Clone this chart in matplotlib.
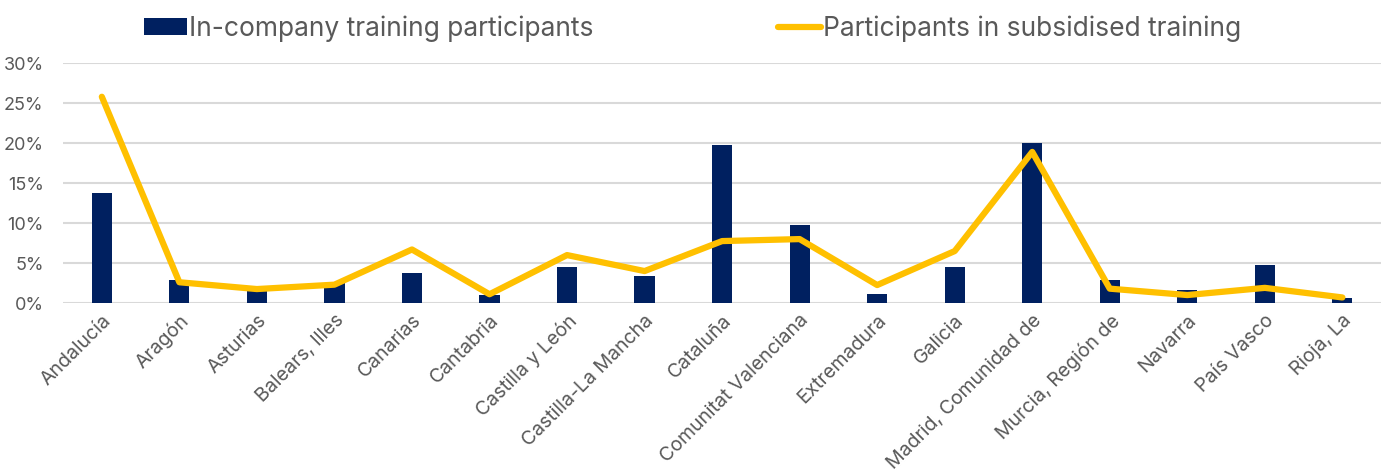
import matplotlib.pyplot as plt
import numpy as np
from matplotlib.ticker import PercentFormatter

regions = ["Andalucía", "Aragón", "Asturias", "Balears, Illes", "Canarias", "Cantabria",
           "Castilla y León", "Castilla-La Mancha", "Cataluña", "Comunitat Valenciana",
           "Extremadura", "Galicia", "Madrid, Comunidad de", "Murcia, Región de",
           "Navarra", "País Vasco", "Rioja, La"]
in_company = [13.8, 2.9, 2.0, 2.5, 3.7, 1.0, 4.5, 3.4, 19.8, 9.7, 1.1, 4.5, 20.0, 2.9, 1.6, 4.8, 0.6]
subsidised = [25.8, 2.6, 1.75, 2.3, 6.7, 1.1, 6.0, 4.0, 7.75, 8.0, 2.25, 6.5, 18.9, 1.8, 1.0, 1.9, 0.7]

navy = "#002060"
yellow = "#FFC000"
grey = "#595959"

plt.rcParams['font.family'] = ['Inter', 'DejaVu Sans']

fig = plt.figure(figsize=(13.86, 4.75), dpi=100)
ax = fig.add_axes([0.0455, 0.362, 0.951, 0.505])

x = np.arange(len(regions))
bars = ax.bar(x, in_company, width=0.26, color=navy, label="In-company training participants", zorder=2)
line, = ax.plot(x, subsidised, color=yellow, lw=4.5, solid_capstyle="round", solid_joinstyle="round",
                label="Participants in subsidised training", zorder=3)

ax.set_xlim(-0.5, len(regions) - 0.5)
ax.set_ylim(0, 30)
ax.set_yticks(range(0, 31, 5))
ax.yaxis.set_major_formatter(PercentFormatter(decimals=0))
ax.grid(axis="y", color="#d9d9d9", lw=1.5, zorder=0)
ax.set_axisbelow(True)
for s in ax.spines.values():
    s.set_visible(False)
ax.tick_params(axis="y", length=0, labelsize=13, colors=grey, pad=14)
ax.tick_params(axis="x", length=0, colors=grey, pad=6)
ax.set_xticks(x)
ax.set_xticklabels(regions, rotation=45, ha="right", rotation_mode="anchor", fontsize=14)

fig.legend([bars, line], [bars.get_label(), line.get_label()],
           loc="upper center", bbox_to_anchor=(0.5, 1.018), ncol=2, frameon=False,
           fontsize=19, labelcolor=grey, handlelength=1.6, handleheight=0.6,
           columnspacing=7, handletextpad=0.1)

fig.savefig("out.png", dpi=100)
